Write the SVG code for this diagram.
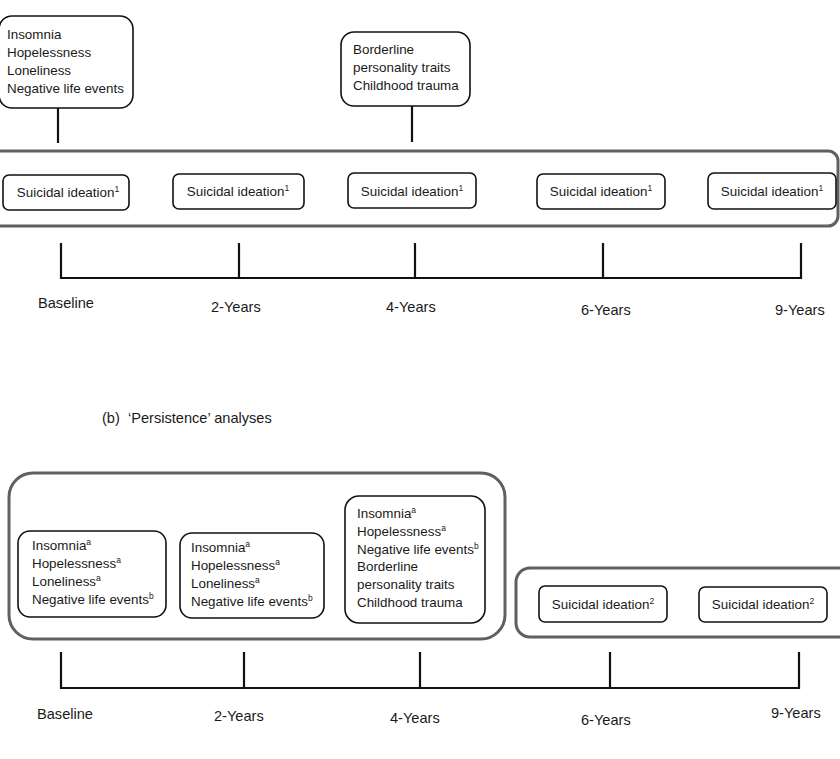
<svg xmlns="http://www.w3.org/2000/svg" width="840" height="759" viewBox="0 0 840 759">
<style>
text{font-family:"Liberation Sans",Arial,sans-serif;fill:#1a1a1a;font-size:13.4px}
.lbl{font-size:14.6px}
.band{fill:none;stroke:#606060;stroke-width:3}
.box{fill:#fff;stroke:#111;stroke-width:1.6}
.ln{stroke:#111;stroke-width:2.2;fill:none}
.sup{font-size:8.5px}
.c{text-anchor:middle}
</style>
<rect width="840" height="759" fill="#fff"/>
<g id="connectors">
<line class="ln" x1="58" y1="108" x2="58" y2="143"/>
<line class="ln" x1="412" y1="106" x2="412" y2="142"/>
<path class="ln" d="M61 243V278H801V243M239 243V278M415 243V278M603 243V278"/>
<path class="ln" d="M61 652V688H799V652M244 652V688M420 652V688M610 652V688"/>
</g>
<g id="band-a"><rect class="band" x="-12" y="151" width="850" height="75" rx="10"/></g>
<g id="factors-baseline">
<rect class="box" x="-1" y="16" width="134" height="92" rx="13"/>
<text x="7" y="39">Insomnia</text>
<text x="7" y="57">Hopelessness</text>
<text x="7" y="75">Loneliness</text>
<text x="7" y="93">Negative life events</text>
</g>
<g id="factors-4y">
<rect class="box" x="341" y="32" width="129" height="74" rx="13"/>
<text x="353" y="54">Borderline</text>
<text x="353" y="72">personality traits</text>
<text x="353" y="90">Childhood trauma</text>
</g>
<g id="si1"><rect class="box" x="3" y="175" width="126" height="35" rx="6"/><text class="c" x="68" y="197">Suicidal ideation<tspan class="sup" dy="-5">1</tspan></text></g>
<g id="si2"><rect class="box" x="173" y="174" width="131" height="35" rx="6"/><text class="c" x="238" y="196">Suicidal ideation<tspan class="sup" dy="-5">1</tspan></text></g>
<g id="si3"><rect class="box" x="348" y="173" width="128" height="35" rx="6"/><text class="c" x="412" y="196">Suicidal ideation<tspan class="sup" dy="-5">1</tspan></text></g>
<g id="si4"><rect class="box" x="537" y="174" width="128" height="35" rx="6"/><text class="c" x="601" y="196">Suicidal ideation<tspan class="sup" dy="-5">1</tspan></text></g>
<g id="si5"><rect class="box" x="708" y="173" width="128" height="36" rx="6"/><text class="c" x="772" y="196">Suicidal ideation<tspan class="sup" dy="-5">1</tspan></text></g>
<g id="labels-a">
<text class="lbl" x="38" y="308">Baseline</text>
<text class="lbl" x="211" y="312">2-Years</text>
<text class="lbl" x="386" y="312">4-Years</text>
<text class="lbl" x="581" y="315">6-Years</text>
<text class="lbl" x="775" y="315">9-Years</text>
</g>
<text x="102" y="423" xml:space="preserve" style="font-size:14.6px">(b)  ‘Persistence’ analyses</text>
<g id="band-b1"><rect class="band" x="9" y="473" width="496" height="166" rx="24"/></g>
<g id="band-b2"><rect class="band" x="516" y="568" width="340" height="69" rx="14"/></g>
<g id="pred-baseline">
<rect class="box" x="18" y="531" width="148" height="86" rx="12"/>
<text x="32" y="550">Insomnia<tspan class="sup" dy="-5">a</tspan></text>
<text x="32" y="568">Hopelessness<tspan class="sup" dy="-5">a</tspan></text>
<text x="32" y="586">Loneliness<tspan class="sup" dy="-5">a</tspan></text>
<text x="32" y="604">Negative life events<tspan class="sup" dy="-5">b</tspan></text>
</g>
<g id="pred-2y">
<rect class="box" x="180" y="533" width="144" height="85" rx="12"/>
<text x="191" y="552">Insomnia<tspan class="sup" dy="-5">a</tspan></text>
<text x="191" y="570">Hopelessness<tspan class="sup" dy="-5">a</tspan></text>
<text x="191" y="588">Loneliness<tspan class="sup" dy="-5">a</tspan></text>
<text x="191" y="606">Negative life events<tspan class="sup" dy="-5">b</tspan></text>
</g>
<g id="pred-4y">
<rect class="box" x="345" y="496" width="140" height="127" rx="14"/>
<text x="357" y="518">Insomnia<tspan class="sup" dy="-5">a</tspan></text>
<text x="357" y="536">Hopelessness<tspan class="sup" dy="-5">a</tspan></text>
<text x="357" y="554">Negative life events<tspan class="sup" dy="-5">b</tspan></text>
<text x="357" y="571">Borderline</text>
<text x="357" y="589">personality traits</text>
<text x="357" y="607">Childhood trauma</text>
</g>
<g id="si6"><rect class="box" x="539" y="586" width="128" height="36" rx="6"/><text class="c" x="603" y="609">Suicidal ideation<tspan class="sup" dy="-5">2</tspan></text></g>
<g id="si7"><rect class="box" x="699" y="587" width="128" height="35" rx="6"/><text class="c" x="763" y="609">Suicidal ideation<tspan class="sup" dy="-5">2</tspan></text></g>
<g id="labels-b">
<text class="lbl" x="37" y="719">Baseline</text>
<text class="lbl" x="214" y="721">2-Years</text>
<text class="lbl" x="390" y="723">4-Years</text>
<text class="lbl" x="581" y="725">6-Years</text>
<text class="lbl" x="771" y="718">9-Years</text>
</g>
</svg>
